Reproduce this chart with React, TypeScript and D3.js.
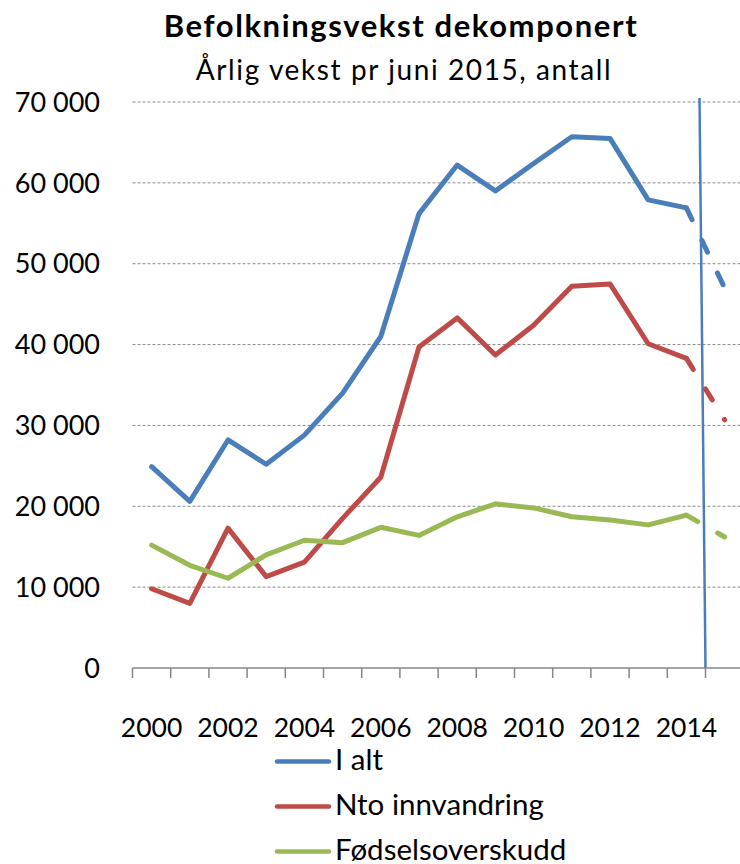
import React from 'react';
import * as d3 from 'd3';

const years = ['2000', '2001', '2002', '2003', '2004', '2005', '2006', '2007', '2008', '2009', '2010', '2011', '2012', '2013', '2014', '2015'];
const yearLabels = ['2000', '2002', '2004', '2006', '2008', '2010', '2012', '2014'];
const yTicks = [0, 10000, 20000, 30000, 40000, 50000, 60000, 70000];

const iAlt = [24900, 20600, 28200, 25200, 28800, 34000, 41000, 56200, 62200, 59000, 62400, 65700, 65500, 57900, 56900, 47000];
const ntoInnvandring = [9800, 8000, 17300, 11300, 13100, 18500, 23600, 39700, 43300, 38700, 42400, 47200, 47500, 40100, 38300, 30700];
const fodselsoverskudd = [15200, 12700, 11100, 14000, 15800, 15500, 17400, 16400, 18700, 20300, 19800, 18700, 18300, 17700, 18900, 16200];

// last segment (2014 -> 2015) is a forecast, drawn dashed
const forecastFrom = '2014';
// vertical marker line at the start of the 2015 category
const marker = { year: '2015', top: 70500, lean: -6 };

const series = [
  { name: 'I alt', values: iAlt, color: '#4A7EBB' },
  { name: 'Nto innvandring', values: ntoInnvandring, color: '#BE4B48' },
  { name: 'Fødselsoverskudd', values: fodselsoverskudd, color: '#98B954' },
];

const W = 740;
const H = 864;
const font = 'Lato, "Noto Sans", sans-serif';

export default function App() {
  const x = d3.scaleBand<string>().domain(years).range([132.5, 743.7]).padding(0);
  const y = d3.scaleLinear().domain([0, 70000]).range([668, 102]);
  const cx = (yr: string) => (x(yr) ?? 0) + x.bandwidth() / 2;
  const fmt = (v: number) => d3.format(',')(v).replace(/,/g, ' ');

  const line = d3.line<[string, number]>().x((d) => cx(d[0])).y((d) => y(d[1]));
  const split = years.indexOf(forecastFrom);

  const boundaries = d3.range(years.length).map((i) => x(years[i]) ?? 0);
  const mx = x(marker.year) ?? 0;

  return (
    <svg width={W} height={H} style={{ position: 'absolute', left: 0, top: 0, background: '#fff' }} fontFamily={font}>
      <text x={401} y={37} textAnchor="middle" fontSize={31} letterSpacing={1.6} fontWeight="bold" fill="#000">Befolkningsvekst dekomponert</text>
      <text x={404} y={80} textAnchor="middle" fontSize={28} letterSpacing={1.6} fill="#000">Årlig vekst pr juni 2015, antall</text>

      {/* grid + y labels */}
      {yTicks.map((t) => (
        <g key={t}>
          {t > 0 && (
            <line x1={132.5} x2={W} y1={y(t)} y2={y(t)} stroke="#8a8a8a" strokeWidth={1} strokeDasharray="3,2" />
          )}
          <text x={100} y={y(t)} dy="0.36em" textAnchor="end" fontSize={27} fill="#000">{fmt(t)}</text>
        </g>
      ))}

      {/* x axis */}
      <line x1={132.5} x2={W} y1={y(0)} y2={y(0)} stroke="#868686" strokeWidth={1.5} />
      {boundaries.map((b, i) => (
        <line key={i} x1={b} x2={b} y1={y(0)} y2={y(0) + 10} stroke="#868686" strokeWidth={1.5} />
      ))}
      {yearLabels.map((yr) => (
        <text key={yr} x={cx(yr)} y={737} textAnchor="middle" fontSize={26.5} fill="#000">{yr}</text>
      ))}

      {/* series */}
      {series.map((s) => {
        const pts: [string, number][] = years.map((yr, i) => [yr, s.values[i]]);
        return (
          <g key={s.name}>
            <path d={line(pts.slice(0, split + 1)) ?? ''} fill="none" stroke={s.color} strokeWidth={5}
              strokeLinejoin="round" strokeLinecap="round" />
            <path d={line(pts.slice(split)) ?? ''} fill="none" stroke={s.color} strokeWidth={5}
              strokeLinecap="round" strokeDasharray="13,23" />
          </g>
        );
      })}

      {/* vertical marker */}
      <line x1={mx + marker.lean} y1={y(marker.top)} x2={mx} y2={y(0)} stroke="#4A7EBB" strokeWidth={2.5} />

      {/* legend */}
      {series.map((s, i) => (
        <g key={s.name} transform={`translate(277, ${761.5 + i * 45})`}>
          <line x1={0} x2={52} y1={0} y2={0} stroke={s.color} strokeWidth={4.5} strokeLinecap="round" />
          <text x={58} y={8} fontSize={29.5} fill="#000">{s.name}</text>
        </g>
      ))}
    </svg>
  );
}
